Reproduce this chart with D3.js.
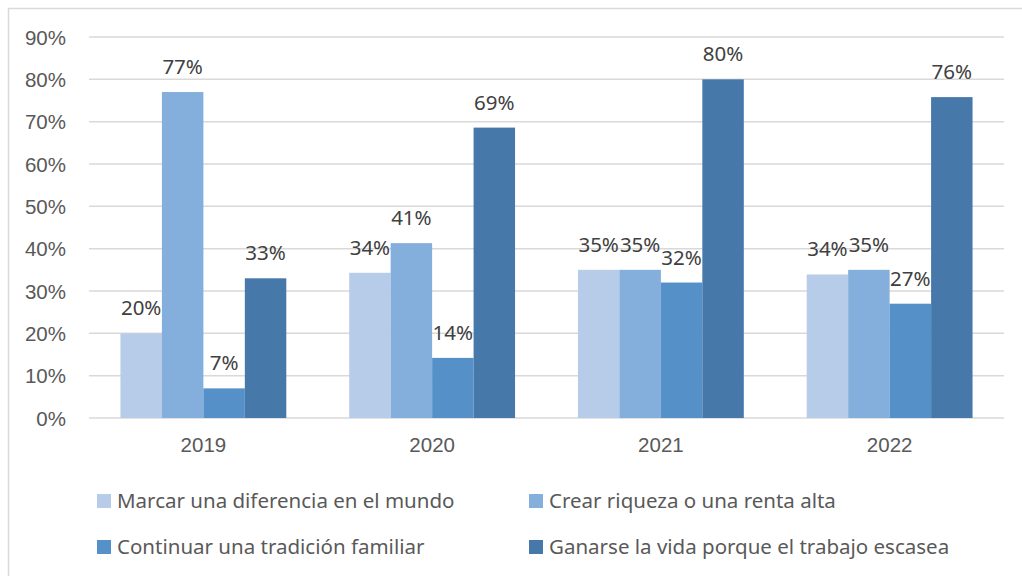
<!DOCTYPE html>
<html>
<head>
<meta charset="utf-8">
<script src="https://cdnjs.cloudflare.com/ajax/libs/d3/7.8.5/d3.min.js"></script>
<style>
  body { margin: 0; background: #fff; }
  svg { font-family: "Noto Sans", sans-serif; }
  .axis text { fill: #595959; font-size: 20.5px; }
  .label { fill: #404040; font-size: 20.5px; }
  .legend text { fill: #595959; font-size: 20.5px; }
</style>
</head>
<body>
<svg width="1022" height="576"></svg>
<script>
// data
var years = ["2019", "2020", "2021", "2022"];
var series = [
  "Marcar una diferencia en el mundo",
  "Crear riqueza o una renta alta",
  "Continuar una tradición familiar",
  "Ganarse la vida porque el trabajo escasea"
];
var marcar = [20, 34.3, 35, 33.9];
var riqueza = [77, 41.3, 35, 35];
var tradicion = [7, 14.2, 32, 27];
var ganarse = [33, 68.6, 80, 75.8];
var yTicks = [0, 10, 20, 30, 40, 50, 60, 70, 80, 90];
var colors = ["#b7cce8", "#84aedb", "#5591c8", "#4679a9"];

var values = [marcar, riqueza, tradicion, ganarse];

var svg = d3.select("svg"),
    margin = { top: 37, left: 89, right: 18, bottom: 158 },
    width = +svg.attr("width") - margin.left - margin.right,
    height = +svg.attr("height") - margin.top - margin.bottom;

// kader rond de grafiek
svg.append("rect")
    .attr("x", 8.5).attr("y", 8.5)
    .attr("width", 1100).attr("height", 1000)
    .attr("fill", "none")
    .attr("stroke", "#d9d9d9")
    .attr("stroke-width", 1.5);

var x0 = d3.scaleBand().domain(years).range([0, width]).paddingInner(0.275).paddingOuter(0.1375),
    x1 = d3.scaleBand().domain(d3.range(series.length)).range([0, x0.bandwidth()]),
    y = d3.scaleLinear().domain([0, 90]).range([height, 0]);

var g = svg.append("g")
    .attr("transform", "translate(" + margin.left + "," + margin.top + ")");

// gridlijnen
g.append("g")
    .selectAll("line")
    .data(yTicks)
    .enter().append("line")
    .attr("x1", 0).attr("x2", width)
    .attr("y1", function (d) { return y(d); })
    .attr("y2", function (d) { return y(d); })
    .attr("stroke", "#d9d9d9")
    .attr("stroke-width", 1.5);

// y as
g.append("g")
    .attr("class", "axis axis--y")
    .call(d3.axisLeft(y).tickValues(yTicks).tickSize(0).tickPadding(23)
        .tickFormat(function (d) { return d + "%"; }))
    .call(function (a) { a.select(".domain").remove(); })
    .selectAll("text").attr("dy", "0.35em");

// x as
g.append("g")
    .attr("class", "axis axis--x")
    .attr("transform", "translate(0," + height + ")")
    .call(d3.axisBottom(x0).tickSize(0).tickPadding(19))
    .call(function (a) { a.select(".domain").remove(); });

// bars
var groups = g.selectAll(".year")
    .data(years)
    .enter().append("g")
    .attr("class", "year")
    .attr("transform", function (d) { return "translate(" + x0(d) + ",0)"; });

groups.selectAll("rect")
    .data(function (d, i) { return values.map(function (v, s) { return { s: s, v: v[i] }; }); })
    .enter().append("rect")
    .attr("x", function (d) { return x1(d.s); })
    .attr("y", function (d) { return y(d.v); })
    .attr("width", x1.bandwidth())
    .attr("height", function (d) { return height - y(d.v); })
    .attr("fill", function (d) { return colors[d.s]; });

groups.selectAll(".label")
    .data(function (d, i) { return values.map(function (v, s) { return { s: s, v: v[i] }; }); })
    .enter().append("text")
    .attr("class", "label")
    .attr("x", function (d) { return x1(d.s) + x1.bandwidth() / 2; })
    .attr("y", function (d) { return y(d.v) - 18; })
    .attr("text-anchor", "middle")
    .text(function (d) { return Math.round(d.v) + "%"; });

// legenda
var legend = svg.append("g").attr("class", "legend")
    .selectAll("g")
    .data(series)
    .enter().append("g")
    .attr("transform", function (d, i) {
        return "translate(" + (i % 2 ? 529 : 97) + "," + (i < 2 ? 501 : 547) + ")";
    });

legend.append("rect")
    .attr("x", 0).attr("y", -7)
    .attr("width", 14).attr("height", 14)
    .attr("fill", function (d, i) { return colors[i]; });

legend.append("text")
    .attr("x", 20).attr("dy", "0.35em")
    .text(function (d) { return d; });
</script>
</body>
</html>
